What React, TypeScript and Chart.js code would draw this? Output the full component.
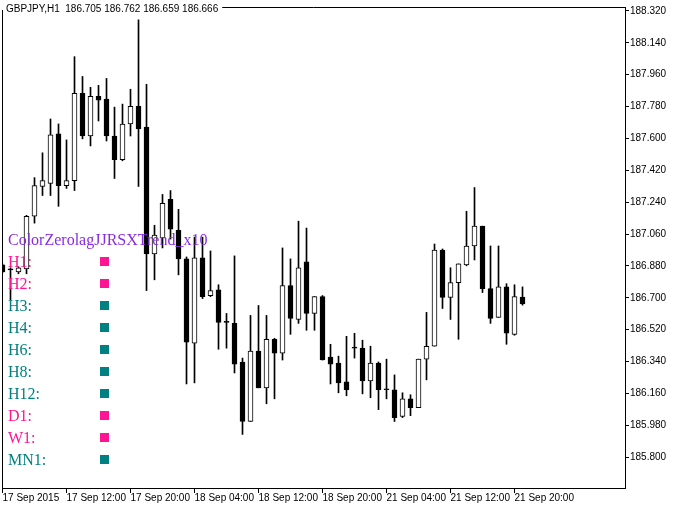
import React, { useEffect, useRef } from "react";
import { Chart, registerables } from "chart.js";

Chart.register(...registerables);

const symbolTitle = "GBPJPY,H1";

const opens = [
  186.886, 186.858, 186.847, 186.864, 187.161, 187.329, 187.346, 187.626, 187.334, 187.362,
  187.855, 187.614, 187.838, 187.822, 187.614, 187.480, 187.682, 187.782, 187.665, 186.948,
  187.038, 187.256, 187.082, 186.920, 186.444, 186.926, 186.713, 186.746, 186.562, 186.556,
  186.338, 186.002, 186.399, 186.192, 186.466, 186.388, 186.769, 186.578, 186.903, 186.612,
  186.707, 186.366, 186.332, 186.226, 186.416, 186.416, 186.231, 186.332, 186.181, 186.181,
  186.030, 186.130, 186.080, 186.354, 186.427, 186.970, 186.702, 186.786, 186.886, 186.993,
  187.105, 186.752, 186.590, 186.763, 186.494, 186.705,
];
const highs = [
  186.892, 186.870, 186.875, 187.166, 187.379, 187.519, 187.710, 187.682, 187.592, 188.062,
  187.950, 187.889, 187.900, 187.939, 187.777, 187.794, 187.878, 188.270, 187.906, 187.110,
  187.284, 187.306, 187.200, 186.931, 187.043, 187.043, 186.965, 186.774, 186.612, 186.937,
  186.360, 186.601, 186.657, 186.601, 186.472, 186.982, 186.920, 187.133, 187.094, 186.707,
  186.713, 186.438, 186.371, 186.483, 186.500, 186.461, 186.427, 186.338, 186.354, 186.265,
  186.164, 186.153, 186.354, 186.618, 187.004, 186.976, 186.870, 186.892, 187.189, 187.323,
  187.105, 186.993, 186.993, 186.780, 186.774, 186.762,
];
const lows = [
  186.842, 186.690, 186.836, 186.836, 187.122, 187.278, 187.278, 187.217, 187.318, 187.306,
  187.598, 187.558, 187.699, 187.586, 187.374, 187.474, 187.614, 187.329, 186.741, 186.802,
  186.982, 187.032, 186.830, 186.214, 186.220, 186.696, 186.707, 186.410, 186.416, 186.276,
  185.929, 186.002, 186.192, 186.102, 186.130, 186.349, 186.494, 186.556, 186.517, 186.517,
  186.349, 186.214, 186.164, 186.147, 186.360, 186.158, 186.136, 186.069, 186.130, 186.002,
  186.024, 186.035, 186.080, 186.237, 186.427, 186.640, 186.578, 186.466, 186.881, 186.914,
  186.730, 186.556, 186.590, 186.438, 186.489, 186.659,
];
const closes = [
  186.847, 186.858, 186.870, 187.161, 187.334, 187.362, 187.620, 187.334, 187.362, 187.855,
  187.614, 187.838, 187.816, 187.614, 187.480, 187.682, 187.782, 187.654, 186.948, 187.054,
  187.234, 187.088, 186.920, 186.450, 186.926, 186.707, 186.741, 186.562, 186.562, 186.326,
  186.002, 186.399, 186.192, 186.466, 186.388, 186.769, 186.584, 186.870, 186.612, 186.707,
  186.349, 186.326, 186.220, 186.181, 186.416, 186.231, 186.332, 186.181, 186.181, 186.024,
  186.130, 186.080, 186.354, 186.427, 186.970, 186.702, 186.786, 186.892, 186.993, 187.105,
  186.752, 186.584, 186.763, 186.500, 186.707, 186.666,
];

const timeTickIndex = [0, 8, 16, 24, 32, 40, 48, 56, 64];
const timeTickLabels = [
  "17 Sep 2015", "17 Sep 12:00", "17 Sep 20:00", "18 Sep 04:00", "18 Sep 12:00",
  "18 Sep 20:00", "21 Sep 04:00", "21 Sep 12:00", "21 Sep 20:00",
];
const priceTicks = [
  185.8, 185.98, 186.16, 186.34, 186.52, 186.7, 186.88, 187.06, 187.24, 187.42,
  187.6, 187.78, 187.96, 188.14, 188.32,
];

const indicatorName = "ColorZerolagJJRSXTrend_x10";
const timeframes = ["H1:", "H2:", "H3:", "H4:", "H6:", "H8:", "H12:", "D1:", "W1:", "MN1:"];
const trendStates = [0, 0, 1, 1, 1, 1, 1, 0, 0, 1];

const PRICE_MIN = 185.6264;
const PRICE_MAX = 188.3424;
const X_MIN = -0.0625;
const X_MAX = 77.8125;

const AXIS_FONT = { family: "'Liberation Sans', Arial, sans-serif", size: 10 };

export default function App() {
  const ref = useRef<HTMLCanvasElement | null>(null);

  useEffect(() => {
    document.body.style.margin = "0";
    const canvas = ref.current;
    if (!canvas) return;

    const last = opens.length - 1;
    const headerText = `${symbolTitle}  ${opens[last].toFixed(3)} ${highs[last].toFixed(3)} ${lows[last].toFixed(3)} ${closes[last].toFixed(3)}`;

    const framePlugin = {
      id: "frame",
      beforeDatasetsDraw(chart: any) {
        const { ctx, chartArea } = chart;
        ctx.save();
        ctx.strokeStyle = "#000";
        ctx.lineWidth = 1;
        ctx.beginPath();
        ctx.moveTo(chartArea.left + 0.5, chartArea.bottom);
        ctx.lineTo(chartArea.left + 0.5, chartArea.top + 0.5);
        ctx.lineTo(chartArea.right, chartArea.top + 0.5);
        ctx.stroke();
        ctx.restore();
      },
      afterDatasetsDraw(chart: any) {
        const { ctx } = chart;
        ctx.save();
        ctx.font = "16px 'Liberation Serif', 'Times New Roman', serif";
        ctx.textBaseline = "alphabetic";
        ctx.textAlign = "left";
        ctx.fillStyle = "#8A2BE2";
        ctx.fillText(indicatorName, 8, 245);
        timeframes.forEach((tf, i) => {
          const color = trendStates[i] ? "#008080" : "#FF1493";
          ctx.fillStyle = color;
          ctx.fillText(tf, 8, 267 + 22 * i);
          ctx.fillRect(100, 257 + 22 * i, 9, 9);
        });
        ctx.font = "10px 'Liberation Sans', Arial, sans-serif";
        const w = ctx.measureText(headerText).width;
        ctx.fillStyle = "#fff";
        ctx.fillRect(0, 0, w + 10, 10);
        ctx.fillStyle = "#000";
        ctx.fillText(headerText, 6, 12);
        ctx.restore();
      },
    };

    const wickData = opens.map((_, i) => ({ x: i, y: [lows[i], highs[i]] }));
    const bodyData = opens.map((o, i) => ({ x: i, y: [o, closes[i]] }));
    const bodyColors = opens.map((o, i) => (closes[i] > o ? "#ffffff" : "#000000"));

    const chart = new Chart(canvas, {
      type: "bar",
      data: {
        datasets: [
          {
            label: "wick",
            data: wickData as any,
            backgroundColor: "#000",
            borderWidth: 0,
            barThickness: 1,
            minBarLength: 1,
            grouped: false,
            order: 2,
          } as any,
          {
            label: "body",
            data: bodyData as any,
            backgroundColor: bodyColors,
            borderColor: "#000",
            borderWidth: 1,
            borderSkipped: false,
            barThickness: 5,
            minBarLength: 1,
            grouped: false,
            order: 1,
          } as any,
        ],
      },
      options: {
        responsive: false,
        animation: false,
        events: [],
        layout: { padding: { left: 2, top: 3, right: 0, bottom: 0 } },
        plugins: {
          legend: { display: false },
          tooltip: { enabled: false },
          title: { display: false },
        },
        scales: {
          x: {
            type: "linear",
            position: "bottom",
            offset: false,
            min: X_MIN,
            max: X_MAX,
            afterBuildTicks: (scale: any) => {
              scale.ticks = timeTickIndex.map((v) => ({ value: v }));
            },
            afterFit: (scale: any) => {
              scale.height = 20;
            },
            ticks: {
              autoSkip: false,
              maxRotation: 0,
              minRotation: 0,
              align: "start",
              padding: -1,
              color: "#000",
              font: AXIS_FONT,
              callback: (v: any) => {
                const k = timeTickIndex.indexOf(Math.round(Number(v)));
                return k >= 0 ? timeTickLabels[k] : "";
              },
            },
            grid: {
              offset: false,
              drawOnChartArea: false,
              drawTicks: true,
              tickLength: 5,
              tickColor: "#000",
              tickWidth: 1,
              color: "#000",
            },
            border: { display: true, color: "#000", width: 1 },
          } as any,
          y: {
            type: "linear",
            position: "right",
            min: PRICE_MIN,
            max: PRICE_MAX,
            afterBuildTicks: (scale: any) => {
              scale.ticks = priceTicks.map((v) => ({ value: v }));
            },
            afterFit: (scale: any) => {
              scale.width = 52;
            },
            ticks: {
              padding: 1,
              color: "#000",
              font: AXIS_FONT,
              callback: (v: any) => Number(v).toFixed(3),
            },
            grid: {
              drawOnChartArea: false,
              drawTicks: true,
              tickLength: 4,
              tickColor: "#000",
              tickWidth: 1,
              color: "#000",
            },
            border: { display: true, color: "#000", width: 1 },
          } as any,
        },
      },
      plugins: [framePlugin],
    });

    return () => chart.destroy();
  }, []);

  return (
    <div style={{ width: 677, height: 508, background: "#fff" }}>
      <canvas ref={ref} width={677} height={508} style={{ display: "block" }} />
    </div>
  );
}
